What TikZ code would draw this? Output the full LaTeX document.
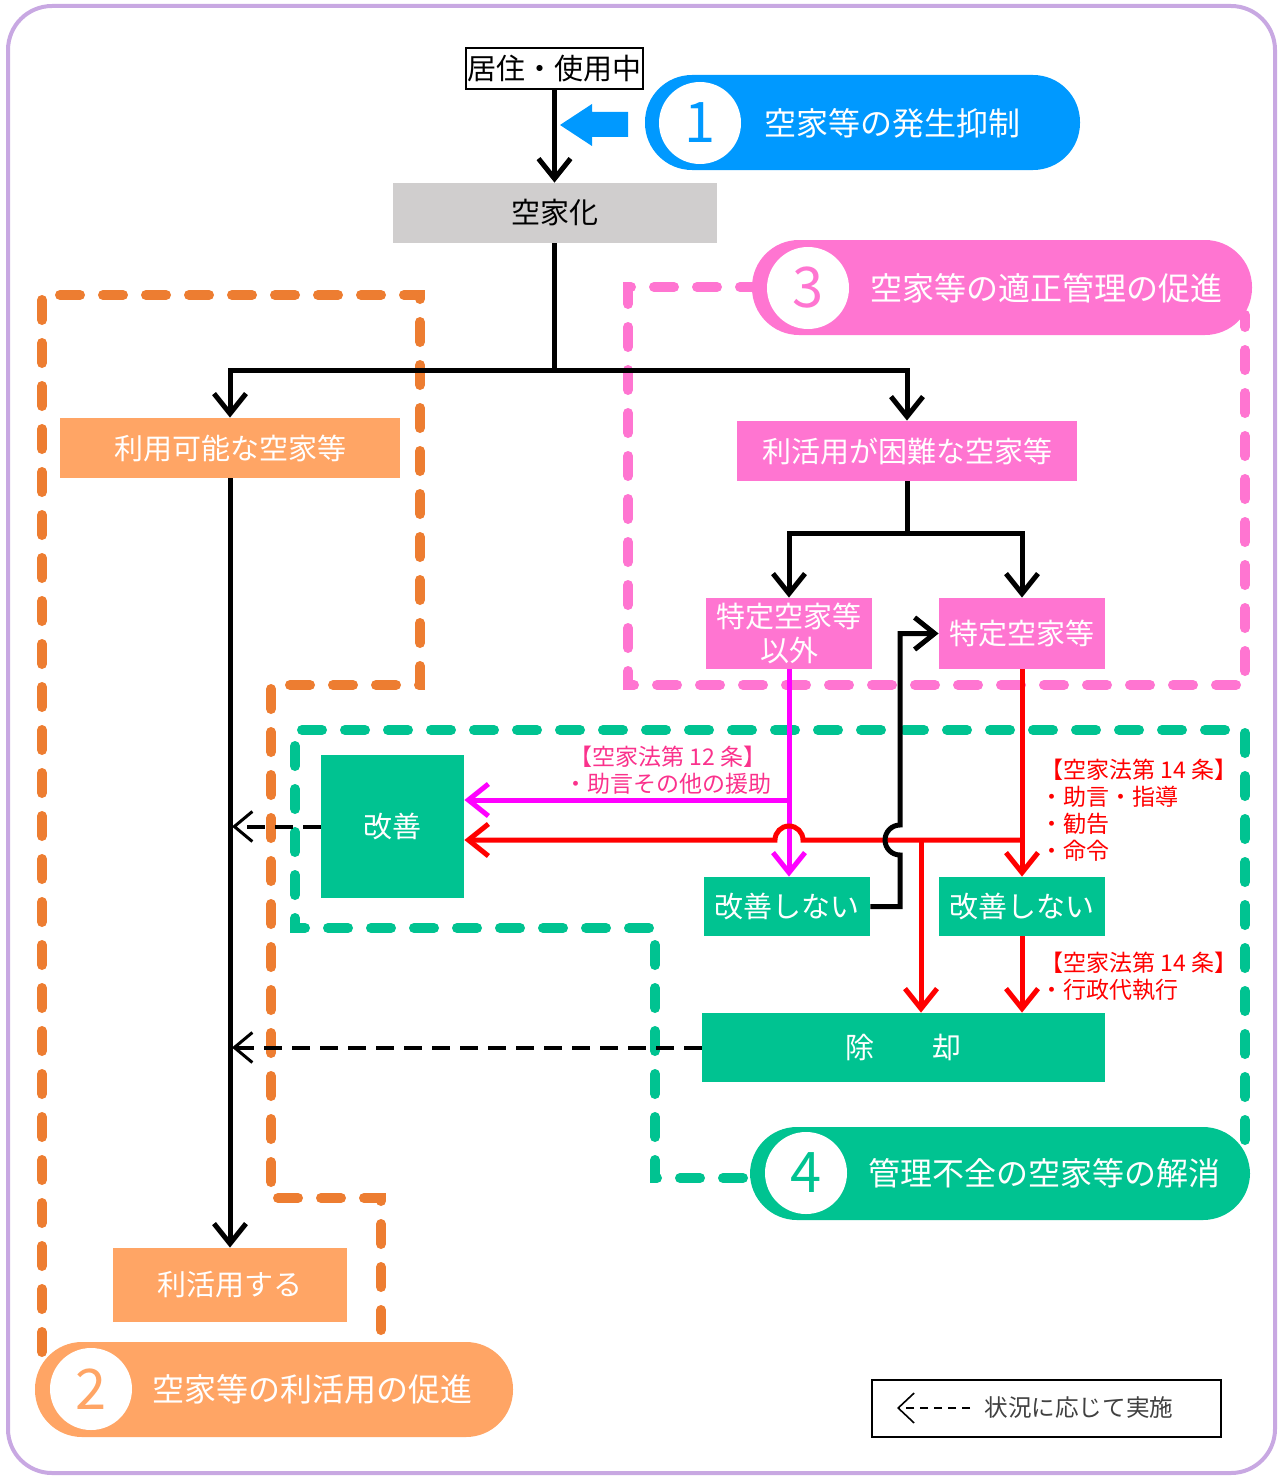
\documentclass[tikz,border=0pt]{standalone}
\usepackage{fontspec}
\setmainfont{Noto Sans CJK JP}
\usepackage{tikz}
\usetikzlibrary{positioning,arrows.meta}
\definecolor{frameC}{RGB}{200,168,226}
\definecolor{blueC}{RGB}{0,153,255}
\definecolor{pinkC}{RGB}{255,117,209}
\definecolor{orangeC}{RGB}{255,165,101}
\definecolor{orangeD}{RGB}{237,125,49}
\definecolor{greenC}{RGB}{0,195,145}
\definecolor{grayC}{RGB}{208,206,206}
\definecolor{lawC}{RGB}{250,50,140}
\definecolor{magC}{RGB}{255,0,255}
\definecolor{redC}{RGB}{255,0,0}
\begin{document}
\begin{tikzpicture}[
  x=0.5pt, y=-0.5pt,
  box/.style={rectangle, inner sep=0pt, text=white, font=\fontsize{14.5}{17}\selectfont},
  obox/.style={box, fill=orangeC},
  pbox/.style={box, fill=pinkC},
  gbox/.style={box, fill=greenC},
  pill/.style={rectangle, rounded corners=23.5pt, minimum height=47.5pt, inner sep=0pt},
  num/.style={circle, fill=white, minimum size=41pt, inner sep=0pt, font=\fontsize{28}{28}\selectfont},
  ptext/.style={inner sep=0pt, text=white, font=\fontsize{16}{19}\selectfont},
  line/.style={line width=2.5pt},
  arr/.style={line width=2.5pt, -{Straight Barb[length=10pt,width=16pt]}},
  region/.style={line width=5pt, line cap=round, dash pattern=on 10pt off 11.5pt},
  opt/.style={line width=2pt, dash pattern=on 9pt off 5pt, -{Straight Barb[length=9pt,width=15pt,line width=1.5pt]}},
  law/.style={inner sep=0pt, align=left, text=redC, font=\fontsize{11.5}{13.5}\selectfont}
]
  \useasboundingbox (0,0) rectangle (1279,1477);
  \draw[line width=2pt, frameC, rounded corners=22pt] (8,6) rectangle (1275,1473);

  \draw[region, orangeD] (42,1352) -- (42,295) -- (420,295) -- (420,685) -- (271,685) -- (271,1198) -- (381,1198) -- (381,1345);
  \draw[region, pinkC] (760,287) -- (628,287) -- (628,685) -- (1245,685) -- (1245,315);
  \draw[region, greenC] (1245,1140) -- (1245,730) -- (295,730) -- (295,928) -- (655,928) -- (655,1178) -- (760,1178);

  \node[draw, fill=white, line width=0.75pt, minimum width=88.5pt, minimum height=20.5pt, inner sep=0pt, font=\fontsize{14.5}{17}\selectfont] (live) at (554.5,68.5) {居住・使用中};
  \node[box, fill=grayC, text=black, minimum width=162pt, minimum height=30pt] (vac) at (554.5,213) {空家化};
  \node[obox, minimum width=170pt, minimum height=30pt] (avail) at (230,448) {利用可能な空家等};
  \node[pbox, minimum width=170pt, minimum height=30pt] (hard) at (907,451) {利活用が困難な空家等};
  \node[pbox, minimum width=83pt, minimum height=35.5pt, align=center] (other) at (789,633.5) {特定空家等\\以外};
  \node[pbox, minimum width=83pt, minimum height=35.5pt] (spec) at (1022,633.5) {特定空家等};
  \node[gbox, minimum width=71.5pt, minimum height=71.5pt] (fix) at (392.5,826.5) {改善};
  \node[gbox, minimum width=83pt, minimum height=29.5pt] (nofixA) at (787,906.5) {改善しない};
  \node[gbox, minimum width=83pt, minimum height=29.5pt] (nofixB) at (1022,906.5) {改善しない};
  \node[gbox, minimum width=201.5pt, minimum height=34.5pt] (demol) at (903.5,1047.5) {除　　却};
  \node[obox, minimum width=117pt, minimum height=37pt] (use) at (230,1285) {利活用する};

  \coordinate (splitA) at (554.5,370);
  \coordinate (splitB) at (907,533);
  \draw[arr] (live.south) -- (vac.north);
  \draw[line] (vac.south) -- (splitA);
  \draw[arr] (splitA) -| (avail.north);
  \draw[arr] (splitA) -| (hard.north);
  \draw[line] (hard.south) -- (splitB);
  \draw[arr] (splitB) -| (other.north);
  \draw[arr] (splitB) -| (spec.north);
  \draw[arr] (avail.south) -- (use.north);

  \coordinate (magJ) at (789,800);
  \coordinate (redJ) at (1022,840);
  \coordinate (redK) at (921,840);
  \draw[arr, magC] (other.south) -- (other.south |- nofixA.north);
  \draw[arr, magC] (magJ) -- (fix.east |- magJ);
  \draw[arr, redC] (spec.south) -- (nofixB.north);
  \draw[arr, redC] (redJ) -- (803,840) arc[start angle=0, end angle=180, radius=7pt] -- (fix.east |- redJ);
  \draw[arr, redC] (redK) -- (redK |- demol.north);
  \draw[arr, redC] (nofixB.south) -- (nofixB.south |- demol.north);
  \draw[arr] (nofixA.east) -- (900,906.5) -- (900,855) arc[start angle=-90, end angle=-270, radius=7.5pt] |- (spec.west);

  \coordinate (backA) at (232,826.5);
  \coordinate (backB) at (232,1047.5);
  \draw[opt] (fix.west) -- (backA);
  \draw[opt] (demol.west) -- (backB);

  \node[law, text=lawC, align=center, anchor=north] (law12) at (668,746) {【空家法第 12 条】\\・助言その他の援助};
  \node[law, anchor=north west] (law14a) at (1040,759) {【空家法第 14 条】\\・助言・指導\\・勧告\\・命令};
  \node[law, anchor=north west] (law14b) at (1040,952) {【空家法第 14 条】\\・行政代執行};

  \fill[blueC] (560,125) -- (592,104) -- (592,112) -- (628,112) -- (628,137) -- (592,137) -- (592,146) -- cycle;

  \node[pill, fill=blueC, minimum width=217.5pt] (aim1) at (862.5,122.5) {};
  \node[num, text=blueC] (n1) at (700,123) {1};
  \node[ptext, right=11.5pt of n1] (t1) {空家等の発生抑制};
  \node[pill, fill=pinkC, minimum width=250pt] (aim3) at (1002,287.5) {};
  \node[num, text=pinkC] (n3) at (808,288) {3};
  \node[ptext, right=10.5pt of n3] (t3) {空家等の適正管理の促進};
  \node[pill, fill=greenC, minimum width=250pt, minimum height=46.5pt] (aim4) at (1000,1173.5) {};
  \node[num, text=greenC] (n4) at (806,1173) {4};
  \node[ptext, right=10.5pt of n4] (t4) {管理不全の空家等の解消};
  \node[pill, fill=orangeC, minimum width=239pt] (aim2) at (274,1389.5) {};
  \node[num, text=orangeC] (n2) at (91,1389) {2};
  \node[ptext, right=10pt of n2] (t2) {空家等の利活用の促進};

  \node[draw, line width=1pt, minimum width=174.5pt, minimum height=28.5pt, inner sep=0pt] (key) at (1046.5,1408.5) {};
  \coordinate (keyA) at (970,1408);
  \coordinate (keyB) at (897,1408);
  \draw[line width=0.8pt, dash pattern=on 4pt off 3pt, -{Straight Barb[length=8pt,width=15pt]}] (keyA) -- (keyB);
  \node[inner sep=0pt, anchor=west, text=black!75, font=\fontsize{11.8}{14}\selectfont] (keyT) at (984,1408) {状況に応じて実施};
\end{tikzpicture}
\end{document}
